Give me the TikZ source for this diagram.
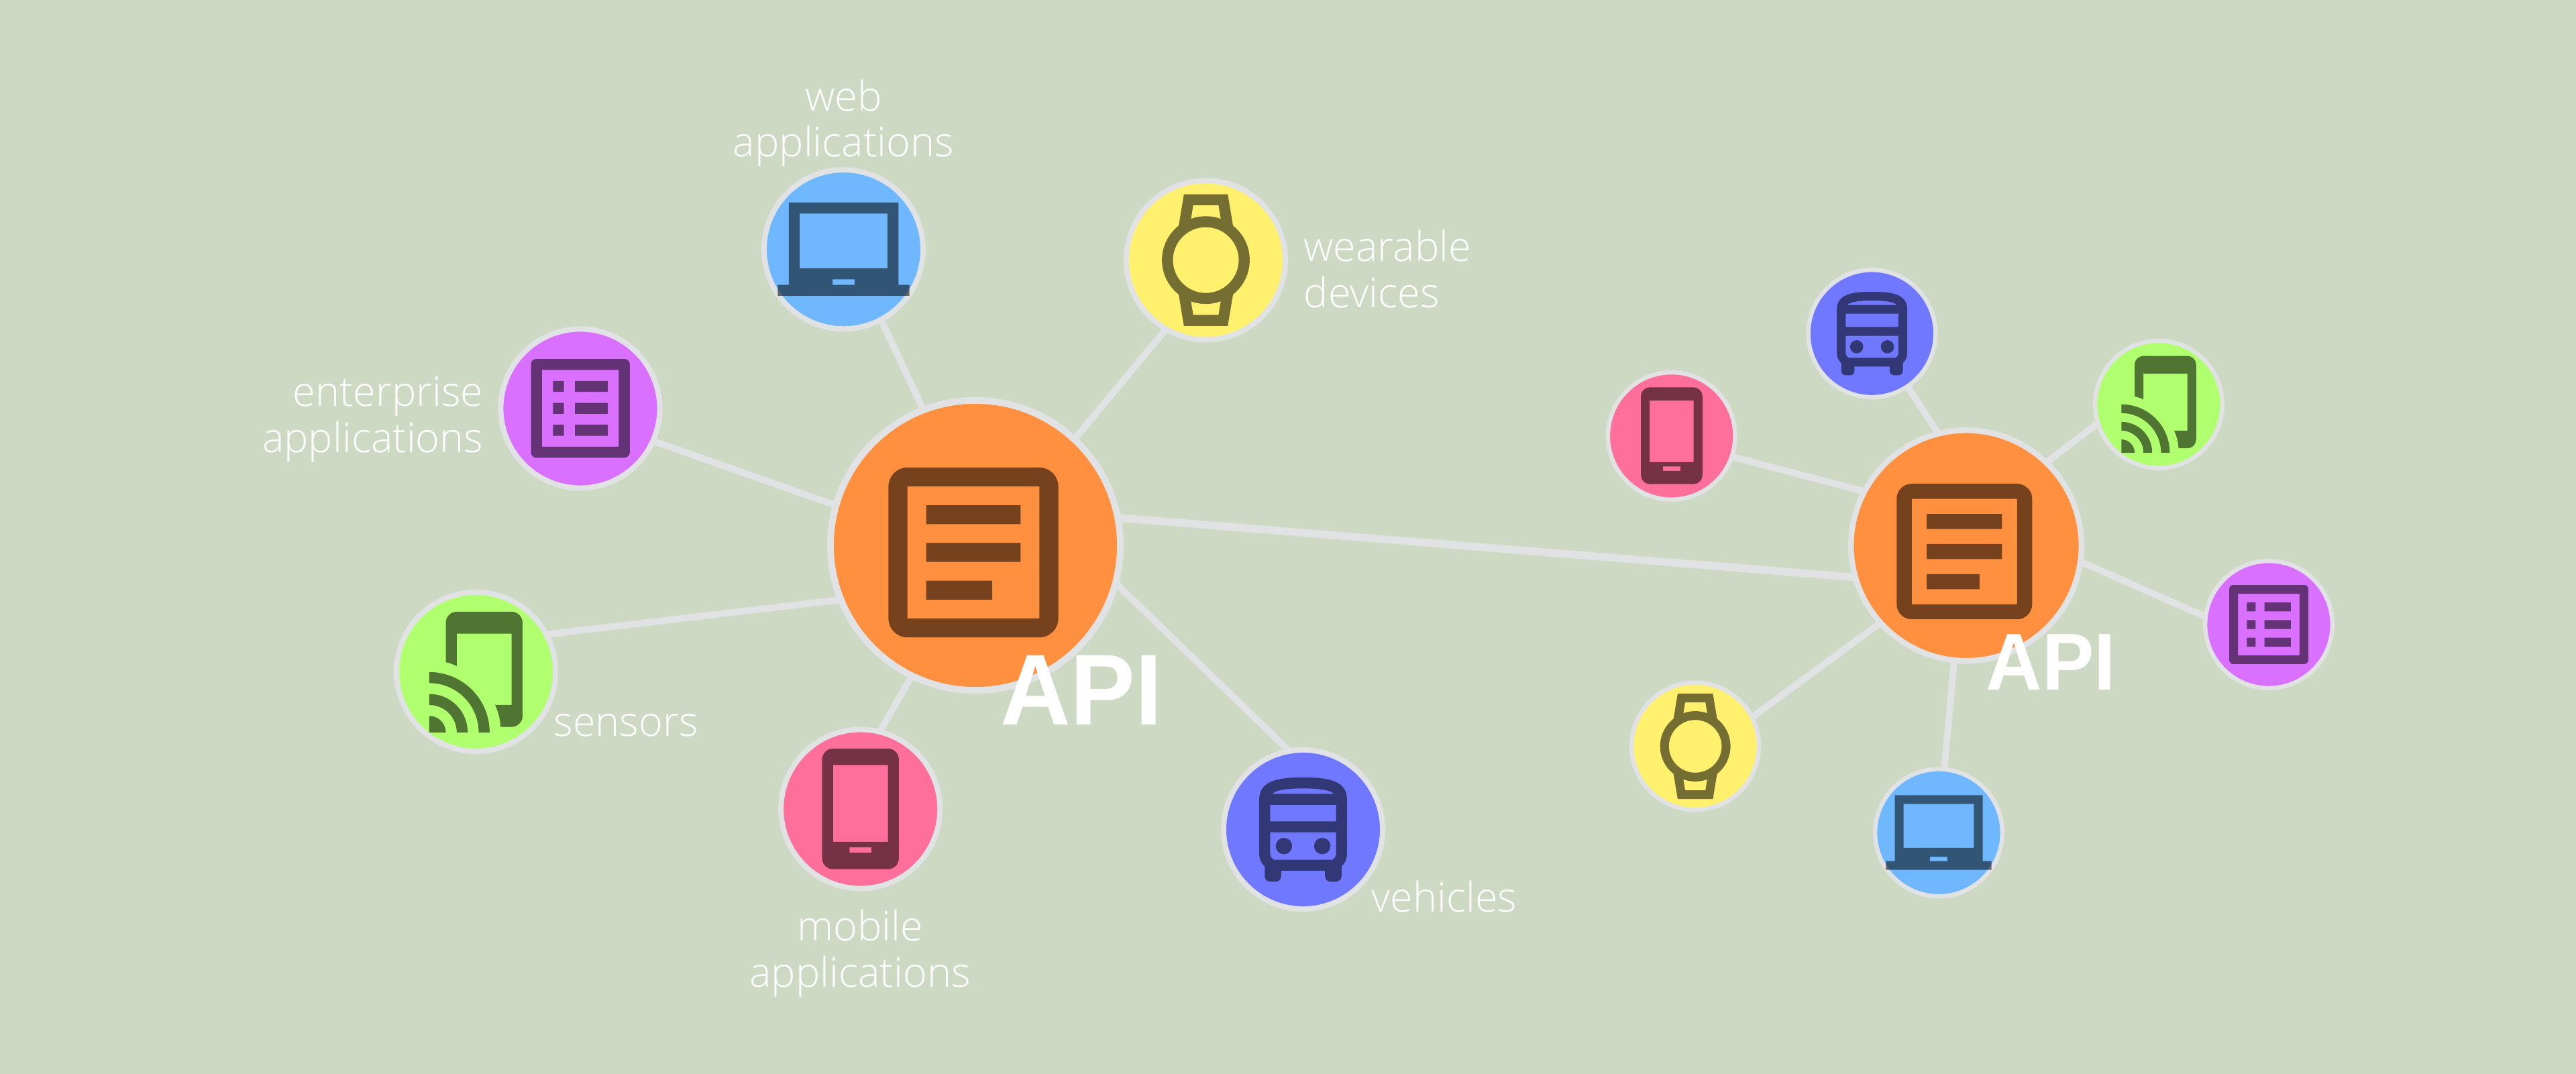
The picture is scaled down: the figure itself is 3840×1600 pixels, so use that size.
\documentclass[tikz,border=0pt]{standalone}
\usepackage{fontspec}
\setmainfont{Liberation Sans}
\newfontfamily\labfont{Open Sans Light}
\newfontfamily\apifont[FakeStretch=0.965]{Liberation Sans Bold}
\usetikzlibrary{svg.path,backgrounds}
\definecolor{bgc}{HTML}{CED9C3}
\definecolor{edgec}{HTML}{E0E2E4}
\definecolor{orangec}{HTML}{FF9040}
\definecolor{bluec}{HTML}{6FB8FF}
\definecolor{yellowc}{HTML}{FFF06E}
\definecolor{purplec}{HTML}{D970FF}
\definecolor{greenc}{HTML}{B0FF6E}
\definecolor{pinkc}{HTML}{FF6F9B}
\definecolor{indigoc}{HTML}{6F78FF}
\def\pathArticle{M19 5 V19 H5 V5 Z M19 3 H5 C3.9 3 3 3.9 3 5 V19 C3 20.1 3.9 21 5 21 H19 C20.1 21 21 20.1 21 19 V5 C21 3.9 20.1 3 19 3 Z M14 17 H7 V15 H14 Z M17 13 H7 V11 H17 Z M17 9 H7 V7 H17 Z}
\def\pathList{M19 5 V19 H5 V5 Z M20.1 3 H3.9 C3.4 3 3 3.4 3 3.9 V20.1 C3 20.5 3.4 21 3.9 21 H20.1 C20.5 21 21 20.5 21 20.1 V3.9 C21 3.4 20.5 3 20.1 3 Z M11 7 H17 V9 H11 Z M11 11 H17 V13 H11 Z M11 15 H17 V17 H11 Z M7 7 H9 V9 H7 Z M7 11 H9 V13 H7 Z M7 15 H9 V17 H7 Z}
\def\pathLaptop{M2 3 H22 V18 H24 V20 H0 V18 H2 Z M4 5 H20 V15 H4 Z M10 17 H14 V18 H10 Z}
\def\pathWatch{M14.31 2 l0.41 2.48 C13.87 4.17 12.96 4 12 4 c-0.95 0 -1.87 0.17 -2.71 0.47 L9.7 2 h4.61 Z M14.72 19.52 L14.31 22 H9.7 l-0.41 -2.47 c0.84 0.3 1.76 0.47 2.71 0.47 c0.96 0 1.87 -0.17 2.72 -0.48 Z M16 0 H8 l-0.95 5.73 C5.19 7.19 4 9.45 4 12 s1.19 4.81 3.05 6.27 L8 24 h8 l0.96 -5.73 C18.81 16.81 20 14.54 20 12 s-1.19 -4.81 -3.04 -6.27 L16 0 Z M12 18 c-3.31 0 -6 -2.69 -6 -6 s2.69 -6 6 -6 s6 2.69 6 6 s-2.69 6 -6 6 Z}
\def\pathPhone{M17 1 H7 C5.9 1 5 1.9 5 3 V21 C5 22.1 5.9 23 7 23 H17 C18.1 23 19 22.1 19 21 V3 C19 1.9 18.1 1 17 1 Z M7 4 H17 V18 H7 Z M10 19 H14 V20 H10 Z}
\def\pathBus{M12 2 c-4.42 0 -8 0.5 -8 4 v10 c0 0.88 0.39 1.67 1 2.22 V20 c0 0.55 0.45 1 1 1 h1 c0.55 0 1 -0.45 1 -1 v-1 h8 v1 c0 0.55 0.45 1 1 1 h1 c0.55 0 1 -0.45 1 -1 v-1.78 c0.61 -0.55 1 -1.34 1 -2.22 V6 c0 -3.5 -3.58 -4 -8 -4 Z M17.66 4.99 H6.34 C6.89 4.46 8.31 4 12 4 s5.11 0.46 5.66 0.99 Z M18 6.99 V10 H6 V6.99 H18 Z M17.66 16.73 l-0.29 0.27 H6.63 l-0.29 -0.27 C6.21 16.62 6 16.37 6 16 v-4 h12 v4 c0 0.37 -0.21 0.62 -0.34 0.73 Z M7 14.5 c0 -0.83 0.67 -1.5 1.5 -1.5 s1.5 0.67 1.5 1.5 s-0.67 1.5 -1.5 1.5 s-1.5 -0.67 -1.5 -1.5 Z M14 14.5 c0 -0.83 0.67 -1.5 1.5 -1.5 s1.5 0.67 1.5 1.5 s-0.67 1.5 -1.5 1.5 s-1.5 -0.67 -1.5 -1.5 Z}
\def\pathCast{M4 1 C4 -0.1 4.9 -1 6 -1 H16 C17.1 -1 18 -0.1 18 1 V18 C18 19.1 17.1 20 16 20 H14 C13.9 18.6 13.6 17.25 13 16 H16 V3 H6 V8.9 C5.4 8.6 4.7 8.35 4 8.2 Z M1 18 V21 H4 C4 19.34 2.66 18 1 18 Z M1 14 V16 C3.76 16 6 18.24 6 21 H8 C8 17.13 4.87 14 1 14 Z M1 10 V12 C5.97 12 10 16.03 10 21 H12 C12 14.92 7.07 10 1 10 Z}
\newcommand\iconat[4]{\begin{scope}[shift={(#1,#2)},yscale=-1,scale=#3,shift={(-12pt,-12pt)}]
\edef\iconcmd{\noexpand\fill[black,fill opacity=.54,even odd rule] svg {#4};}\iconcmd
\end{scope}}
\tikzset{
 bigpt/.style={circle,draw=edgec,inner sep=0pt,outer sep=0pt},
 hubL/.style={bigpt,fill=orangec,line width=2.845pt,minimum size=4.32cm},
 hubR/.style={bigpt,fill=orangec,line width=2.42pt,minimum size=3.435cm},
 satL/.style={bigpt,line width=2.276pt,minimum size=2.37cm},
 satR/.style={bigpt,line width=1.82pt,minimum size=1.896cm},
 link/.style={edgec,line width=2.845pt},
 hublink/.style={edgec,line width=3.27pt},
 lab/.style={text=white,inner sep=0pt,font=\labfont\fontsize{17.4pt}{19.35pt}\selectfont},
 apiL/.style={text=white,inner sep=0pt,anchor=base,font=\apifont\fontsize{42.7pt}{45pt}\selectfont},
 apiR/.style={text=white,inner sep=0pt,anchor=base,font=\apifont\fontsize{34.2pt}{36pt}\selectfont},
}
\begin{document}
\begin{tikzpicture}[x=0.01cm,y=-0.01cm]
\useasboundingbox (0,0) rectangle (3840,1600);
\begin{scope}[on background layer]
\fill[bgc] (-10,-10) rectangle (3850,1610);
\end{scope}
% left cluster
\node[hubL] (hubA) at (1454,813) {};
\node[satL,fill=bluec] (webA) at (1257.5,371.7) {};
\node[satL,fill=yellowc] (watchA) at (1797.5,387.8) {};
\node[satL,fill=purplec] (entA) at (865,609) {};
\node[satL,fill=greenc] (senA) at (709.6,1001.4) {};
\node[satL,fill=pinkc] (mobA) at (1282.7,1206) {};
\node[satL,fill=indigoc] (busA) at (1942.5,1236.5) {};
% right cluster
\node[hubR] (hubB) at (2931,813.3) {};
\node[satR,fill=indigoc] (busB) at (2790.4,497.2) {};
\node[satR,fill=pinkc] (mobB) at (2491.7,649.9) {};
\node[satR,fill=greenc] (senB) at (3218,602.8) {};
\node[satR,fill=purplec] (entB) at (3382,931) {};
\node[satR,fill=yellowc] (watchB) at (2527,1112.3) {};
\node[satR,fill=bluec] (webB) at (2890,1241.3) {};
% connectors
\begin{scope}[on background layer]
\draw[hublink] (hubA.11.5) -- (hubB.196);
\draw[link] (hubA.111.2) -- (webA.298.5);
\draw[link] (hubA.47.5) -- (watchA.240);
\draw[link] (hubA.345.8) -- (busA.100.9);
\draw[link] (hubA.244.2) -- (mobA.76.5);
\draw[link] (hubA.202.5) -- (senA.28.4);
\draw[link] (hubA.164.6) -- (entA.336);
\draw[link] (hubB.104.4) -- (busB.304.4);
\draw[link] (hubB.152.9) -- (mobB.341.3);
\draw[link] (hubB.46.1) -- (senB.197.3);
\draw[link] (hubB.352.3) -- (entB.173.8);
\draw[link] (hubB.222) -- (watchB.27.4);
\draw[link] (hubB.264.6) -- (webB.85);
\end{scope}
% icons
\iconat{1451}{823.5}{4.0}{\pathArticle}
\iconat{1257.5}{375.5}{2.3246}{\pathLaptop}
\iconat{1797.5}{387.7}{2.3246}{\pathWatch}
\iconat{865.2}{608.7}{2.3246}{\pathList}
\iconat{729.9}{1018.2}{2.3246}{\pathCast}
\iconat{1282.7}{1205.8}{2.3246}{\pathPhone}
\iconat{1942.5}{1240.7}{2.3246}{\pathBus}
\iconat{2928.3}{822.2}{3.192}{\pathArticle}
\iconat{2790.6}{500.5}{1.8637}{\pathBus}
\iconat{2491.9}{649.5}{1.8637}{\pathPhone}
\iconat{3234.4}{615.8}{1.8637}{\pathCast}
\iconat{3382}{931}{1.8637}{\pathList}
\iconat{2527.1}{1112.5}{1.8637}{\pathWatch}
\iconat{2890}{1244.3}{1.8637}{\pathLaptop}
% labels
\node[lab,anchor=base,align=center] (tWeb) at (1257.5,234) {web\\applications};
\node[lab,anchor=base west,align=left] (tWear) at (1943,458) {wearable\\devices};
\node[lab,anchor=base east,align=right] (tEnt) at (721,674) {enterprise\\applications};
\node[lab,anchor=base west] (tSen) at (825,1097.4) {sensors};
\node[lab,anchor=base,align=center] (tMob) at (1282,1471) {mobile\\applications};
\node[lab,anchor=base west] (tVeh) at (2044,1359) {vehicles};
\node[apiL] (apiA) at (1612,1080) {API};
\node[apiR] (apiB) at (3057,1028) {API};
\end{tikzpicture}
\end{document}
